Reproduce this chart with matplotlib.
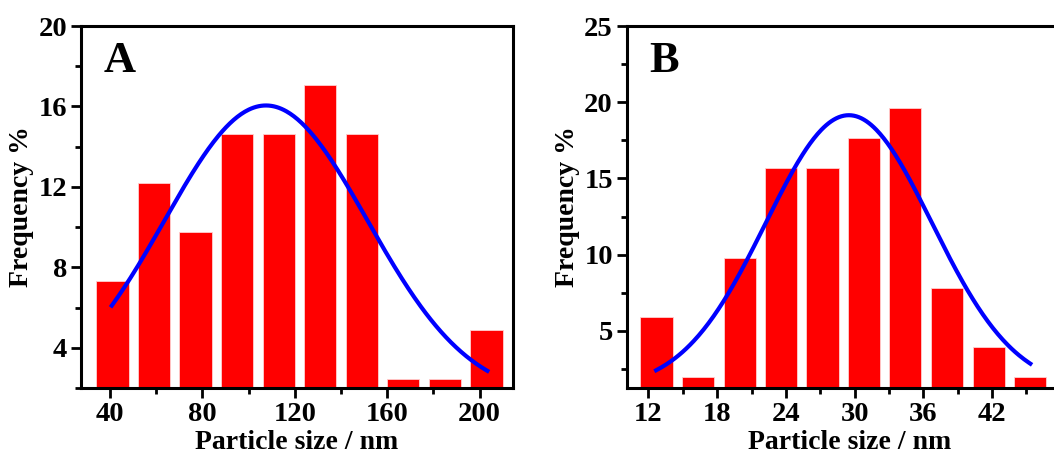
"""
    particle size histograms with gaussian fit (A, B)
"""
import numpy as np
import matplotlib.pyplot as plt
from matplotlib.ticker import MultipleLocator

# panel A data
a_centers = [41, 59, 77, 95, 113, 131, 149, 167, 185, 203]
a_freq = [7.32, 12.20, 9.76, 14.63, 14.63, 17.07, 14.63, 2.44, 2.44, 4.88]
a_fit = dict(y0=1.5, amp=14.55, xc=107.5, sigma=44.0)  # gaussian fit params
a_fit_range = (40.7, 203.4)
a_xticks = [40, 80, 120, 160, 200]
a_yticks = [4, 8, 12, 16, 20]

# panel B data
b_centers = [12.7, 16.3, 20.0, 23.6, 27.2, 30.8, 34.4, 38.1, 41.7, 45.3]
b_freq = [5.88, 1.96, 9.80, 15.69, 15.69, 17.65, 19.61, 7.84, 3.92, 1.96]
b_fit = dict(y0=1.2, amp=17.95, xc=29.5, sigma=7.25)
b_fit_range = (12.67, 45.35)
b_xticks = [12, 18, 24, 30, 36, 42]
b_yticks = [5, 10, 15, 20, 25]

plt.rcParams['font.family'] = ['Liberation Serif', 'DejaVu Serif']
plt.rcParams['font.weight'] = 'bold'


def gauss(x, y0, amp, xc, sigma):
    return y0 + amp * np.exp(-(x - xc) ** 2 / (2 * sigma ** 2))


def hist_panel(ax, centers, freq, width, fit, fit_range, letter):
    ax.bar(centers, freq, width=width, bottom=0, color='#ff0000',
           edgecolor='#ffd0d0', linewidth=0.6, zorder=2)
    xs = np.linspace(fit_range[0], fit_range[1], 300)
    ax.plot(xs, gauss(xs, **fit), color='#0000ff', lw=3, zorder=3)
    for s in ax.spines.values():
        s.set_linewidth(2.2)
    ax.tick_params(which='both', direction='out', top=False, right=False,
                   width=2, labelsize=20.5, pad=3)
    ax.tick_params(which='major', length=7)
    ax.tick_params(which='minor', length=4)
    ax.set_xlabel('Particle size / nm', fontsize=20, fontweight='bold', labelpad=2)
    ax.set_ylabel('Frequency %', fontsize=20, fontweight='bold', labelpad=3)
    ax.text(0.052, 0.96, letter, transform=ax.transAxes, fontsize=32,
            fontweight='bold', va='top', ha='left')


fig = plt.figure(figsize=(10.54, 4.57), dpi=100)

ax1 = fig.add_axes([0.0769, 0.151, 0.4098, 0.792])
hist_panel(ax1, a_centers, a_freq, 14, a_fit, a_fit_range, 'A')
ax1.set_xlim(27.4, 214.5)
ax1.set_ylim(2, 20)
ax1.set_xticks(a_xticks)
ax1.xaxis.set_minor_locator(MultipleLocator(20))
ax1.set_yticks(a_yticks)
ax1.yaxis.set_minor_locator(MultipleLocator(2))

# panel B runs past the right edge of the figure, as in the source image
ax2 = fig.add_axes([0.5946, 0.151, 0.4237, 0.792])
hist_panel(ax2, b_centers, b_freq, 2.8, b_fit, b_fit_range, 'B')
ax2.texts[0].set_x(0.05)
ax2.set_xlim(10.1, 49.1)
ax2.set_ylim(1.25, 25)
ax2.set_xticks(b_xticks)
ax2.set_xticks([15, 21, 27, 33, 39, 45], minor=True)
ax2.set_yticks(b_yticks)
ax2.yaxis.set_minor_locator(MultipleLocator(2.5))

fig.savefig('out.png', dpi=100)
